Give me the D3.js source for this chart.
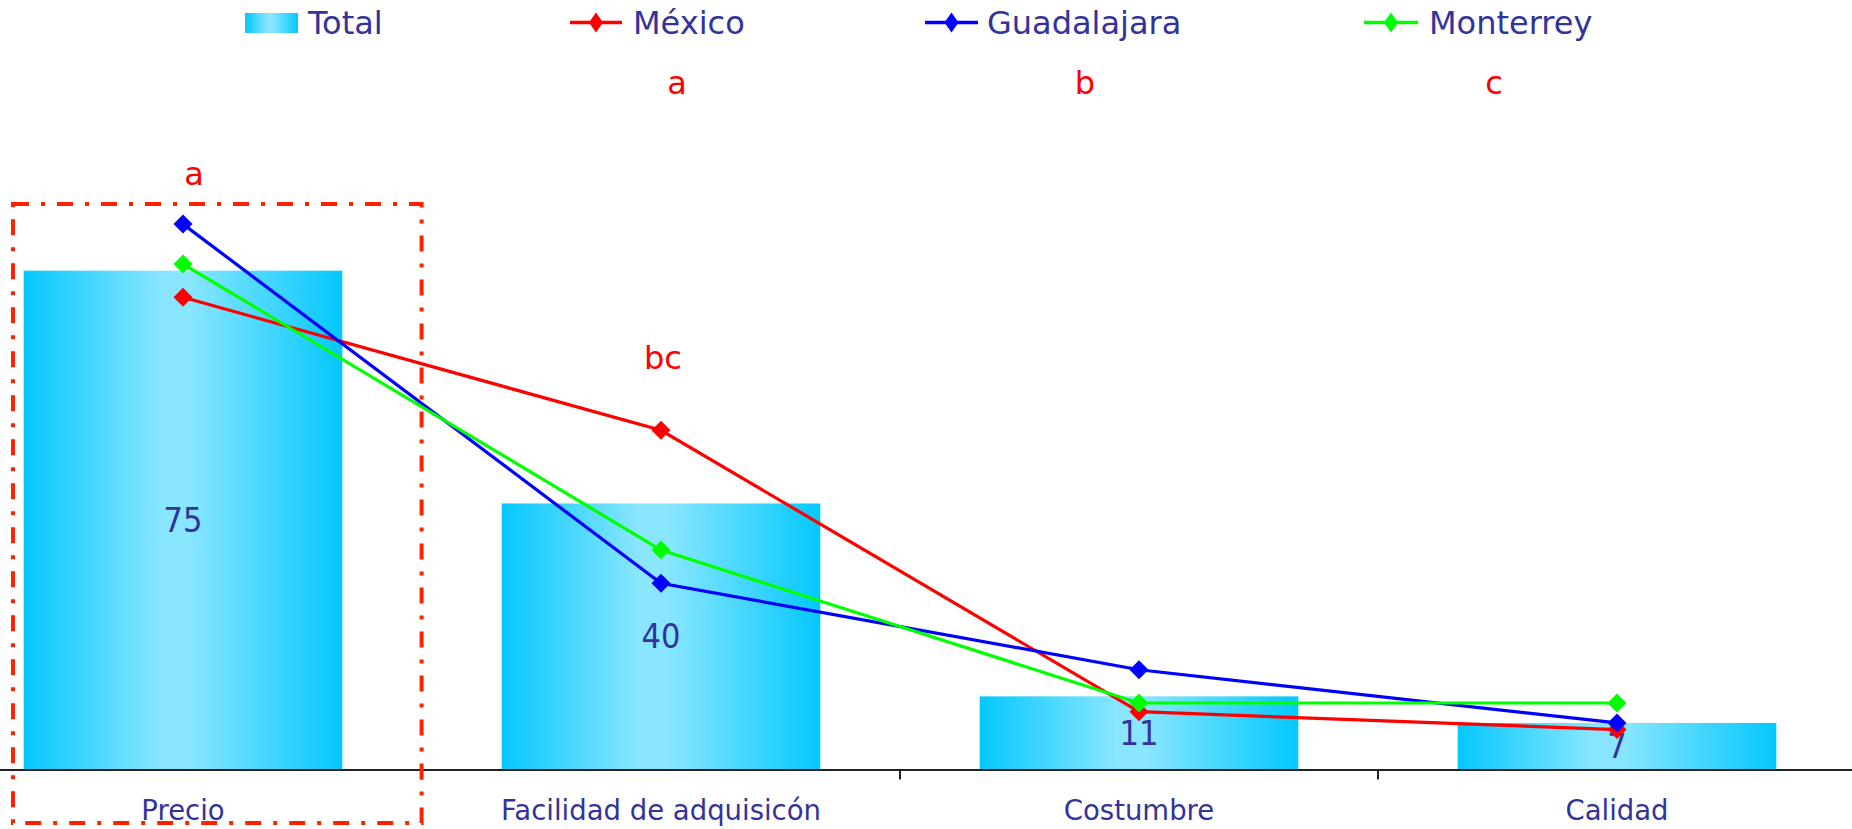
<!DOCTYPE html>
<html>
<head>
<meta charset="utf-8">
<script src="https://cdn.jsdelivr.net/npm/d3@7"></script>
<style>
  html, body { margin: 0; padding: 0; background: #ffffff; }
  svg { display: block; }
  text { font-family: "DejaVu Sans", Verdana, sans-serif; }
</style>
</head>
<body>
<script>
// Purchase motives: overall share and per-city share (%)
const categories = ["Precio", "Facilidad de adquisicón", "Costumbre", "Calidad"];
const totalValues = [75, 40, 11, 7];
const mexicoValues = [71, 51, 8.7, 6];
const guadalajaraValues = [82, 28, 15, 7];
const monterreyValues = [76, 33, 10, 10];
const seriesNames = ["México", "Guadalajara", "Monterrey"];
const seriesColors = ["#ff0000", "#0000ff", "#00ff00"];
const legendLabels = ["Total", "México", "Guadalajara", "Monterrey"];
// significance letters
const headerLetters = ["a", "b", "c"];
const precioLetter = "a";
const facilidadLetter = "bc";

const W = 1852, H = 829;
const svg = d3.select("body").append("svg").attr("width", W).attr("height", H);

const x = d3.scaleBand()
  .domain(categories)
  .range([-56, 1856])
  .paddingInner(1 / 3)
  .paddingOuter(1 / 6);

const y = d3.scaleLinear().domain([0, 100]).range([769.5, 104.4]);

// horizontal cyan gradient used by the bars and the legend swatch
const defs = svg.append("defs");
const grad = defs.append("linearGradient")
  .attr("id", "barGrad").attr("x1", "0%").attr("x2", "100%").attr("y1", "0%").attr("y2", "0%");
[[0, "#04c8fe"], [0.43, "#89e6fe"], [0.52, "#89e6fe"], [1, "#04c8fe"]].forEach(([o, c]) =>
  grad.append("stop").attr("offset", o).attr("stop-color", c));

const totalRows = categories.map((c, i) => ({ c, v: totalValues[i] }));

svg.append("g").selectAll("rect")
  .data(totalRows)
  .join("rect")
  .attr("x", d => x(d.c))
  .attr("width", x.bandwidth())
  .attr("y", d => y(d.v))
  .attr("height", d => y(0) - y(d.v))
  .attr("fill", "url(#barGrad)");

// value labels in the middle of each bar
svg.append("g").selectAll("text")
  .data(totalRows)
  .join("text")
  .attr("transform", d => `translate(${x(d.c) + x.bandwidth() / 2},${(y(d.v) + y(0)) / 2 + 12}) scale(0.9,1)`)
  .attr("text-anchor", "middle")
  .attr("font-size", 34)
  .attr("fill", "#333399")
  .text(d => d.v);

// x axis
const axis = svg.append("g")
  .attr("transform", `translate(0,${y(0)})`)
  .call(d3.axisBottom(x).tickSize(0).tickSizeOuter(0).tickPadding(31));
axis.select(".domain").attr("stroke", "#222222").attr("stroke-width", 2);
axis.selectAll(".tick text")
  .attr("font-size", 27.5)
  .attr("fill", "#333399")
  .attr("font-family", "DejaVu Sans, Verdana, sans-serif");

// tick marks between categories
const gap = x.step() - x.bandwidth();
axis.append("g").selectAll("line")
  .data(categories.slice(0, -1))
  .join("line")
  .attr("x1", d => x(d) + x.bandwidth() + gap / 2)
  .attr("x2", d => x(d) + x.bandwidth() + gap / 2)
  .attr("y1", 0).attr("y2", 10)
  .attr("stroke", "#222222").attr("stroke-width", 2);

// city lines
const allSeries = [mexicoValues, guadalajaraValues, monterreyValues];
const line = d3.line()
  .x(d => x(d.c) + x.bandwidth() / 2)
  .y(d => y(d.v));
const diamond = (r) => `M0,${-r}L${r},0L0,${r}L${-r},0Z`;

allSeries.forEach((vals, si) => {
  const rows = categories.map((c, i) => ({ c, v: vals[i] }));
  const g = svg.append("g");
  g.append("path")
    .datum(rows)
    .attr("d", line)
    .attr("fill", "none")
    .attr("stroke", seriesColors[si])
    .attr("stroke-width", 3.2);
  g.selectAll("path.m")
    .data(rows)
    .join("path")
    .attr("class", "m")
    .attr("d", diamond(9.5))
    .attr("transform", d => `translate(${x(d.c) + x.bandwidth() / 2},${y(d.v)})`)
    .attr("fill", seriesColors[si]);
});

// significance letters
const letterG = svg.append("g").attr("fill", "#ff0000").attr("font-size", 32).attr("text-anchor", "middle");
[677, 1085, 1494].forEach((lx, i) =>
  letterG.append("text").attr("x", lx).attr("y", 94).text(headerLetters[i]));
letterG.append("text")
  .attr("x", x(categories[0]) + x.bandwidth() / 2 + 11)
  .attr("y", 185)
  .text(precioLetter);
letterG.append("text")
  .attr("x", x(categories[1]) + x.bandwidth() / 2 + 2)
  .attr("y", 369)
  .text(facilidadLetter);

// highlight frame around the first category
svg.append("rect")
  .attr("x", 13).attr("y", 204)
  .attr("width", 421.6 - 13).attr("height", 823 - 204)
  .attr("fill", "none")
  .attr("stroke", "#ff2200")
  .attr("stroke-width", 4)
  .attr("stroke-dasharray", "16 12 4 12");

// legend
const legend = svg.append("g");
legend.append("rect")
  .attr("x", 245).attr("y", 13).attr("width", 53).attr("height", 20)
  .attr("fill", "url(#barGrad)");
legend.append("text")
  .attr("x", 308).attr("y", 34)
  .attr("font-size", 32).attr("fill", "#333399")
  .text(legendLabels[0]);

const legendItems = [
  { x0: 570, x1: 622, tx: 633 },
  { x0: 925, x1: 978, tx: 987 },
  { x0: 1364, x1: 1418, tx: 1429 }
];
legendItems.forEach((it, i) => {
  legend.append("line")
    .attr("x1", it.x0).attr("x2", it.x1).attr("y1", 22.5).attr("y2", 22.5)
    .attr("stroke", seriesColors[i]).attr("stroke-width", 3.5);
  legend.append("path")
    .attr("d", `M0,-10L7,0L0,10L-7,0Z`)
    .attr("transform", `translate(${(it.x0 + it.x1) / 2},22.5)`)
    .attr("fill", seriesColors[i]);
  legend.append("text")
    .attr("x", it.tx).attr("y", 34)
    .attr("font-size", 32).attr("fill", "#333399")
    .text(legendLabels[i + 1]);
});
</script>
</body>
</html>
